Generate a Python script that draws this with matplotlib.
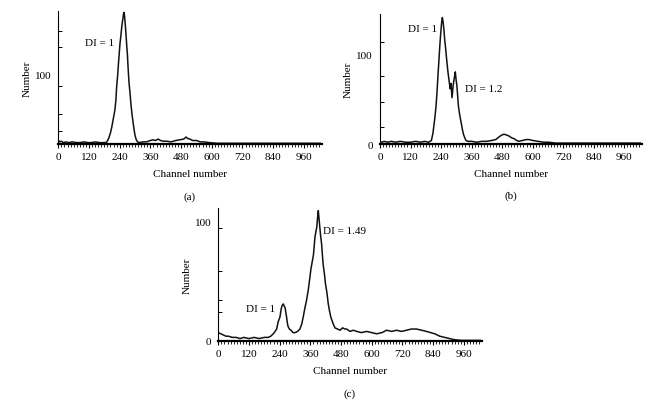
import matplotlib
matplotlib.use("Agg")
from matplotlib import pyplot as plt
from matplotlib.ticker import FixedLocator, MultipleLocator, NullFormatter

plt.rcParams["font.family"] = ["Liberation Serif", "DejaVu Serif"]
plt.rcParams["font.size"] = 8

# Panel (a): diploid only
ch_a = [0, 6, 12, 20, 30, 40, 55, 70, 85, 100, 115, 130, 145, 160, 175, 185, 190, 197,
        204, 209, 215, 221, 225, 228, 232, 235, 238, 241, 245, 248, 252, 255, 257, 259,
        262, 265, 268, 270, 273, 276, 280, 284, 288, 293, 297, 300, 305, 310, 318, 330,
        345, 360, 370, 380, 390, 400, 410, 425, 440, 460, 475, 490, 500, 505, 515, 525,
        540, 555, 570, 590, 620, 660, 700, 760, 820, 880, 940, 1000, 1024]
cnt_a = [5, 3, 4, 2, 3, 2, 3, 2, 2, 3, 2, 2, 3, 2, 2, 2, 3, 8,
         16, 24, 36, 48, 62, 81, 98, 114, 128, 143, 156, 167, 178, 186, 188, 183,
         170, 155, 138, 129, 108, 90, 74, 57, 43, 29, 19, 12, 6, 3, 2, 3,
         3, 5, 6, 5, 7, 5, 4, 4, 3, 5, 6, 7, 10, 8, 7, 5,
         5, 3, 3, 2, 1, 1, 1, 1, 1, 1, 1, 1, 1]

# Panel (b): DI = 1 and DI = 1.2
ch_b = [0, 8, 16, 30, 45, 60, 80, 100, 120, 140, 160, 175, 190, 197, 202, 208, 215, 220,
        224, 228, 232, 235, 238, 242, 245, 248, 251, 254, 258, 262, 267, 272, 276, 279,
        283, 287, 290, 293, 296, 299, 302, 305, 308, 313, 319, 324, 328, 333, 338, 345,
        360, 380, 400, 420, 440, 455, 468, 478, 488, 498, 507, 517, 527, 537, 546, 560,
        575, 585, 600, 620, 645, 663, 690, 740, 800, 860, 920, 980, 1024]
cnt_b = [3, 2, 3, 2, 3, 2, 3, 2, 2, 3, 2, 3, 2, 3, 4, 12, 28, 42,
         58, 78, 96, 110, 122, 136, 142, 137, 129, 118, 107, 95, 81, 70, 62, 68,
         52, 64, 71, 76, 81, 72, 66, 55, 43, 33, 24, 16, 11, 7, 4, 3,
         3, 2, 3, 3, 4, 5, 8, 10, 11, 10, 9, 7, 6, 4, 3, 4,
         5, 5, 4, 3, 2, 2, 1, 1, 1, 1, 1, 1, 1]

# Panel (c): DI = 1 and DI = 1.49
ch_c = [0, 10, 20, 30, 40, 55, 70, 85, 100, 120, 140, 160, 180, 195, 205, 215, 222, 228,
        234, 241, 246, 250, 254, 258, 261, 264, 267, 270, 273, 278, 284, 292, 300, 310,
        319, 326, 332, 338, 345, 352, 358, 362, 367, 372, 378, 382, 385, 388, 391, 394,
        397, 400, 404, 407, 410, 415, 419, 425, 430, 435, 440, 448, 456, 466, 476, 486,
        495, 502, 515, 528, 541, 560, 580, 600, 619, 640, 658, 678, 697, 716, 736, 755,
        775, 795, 814, 830, 847, 856, 866, 885, 905, 925, 950, 1000, 1024]
cnt_c = [7, 6, 5, 4, 4, 3, 3, 2, 3, 2, 3, 2, 3, 3, 4, 6, 8, 10,
         16, 20, 27, 30, 31, 29, 28, 24, 20, 15, 12, 10, 9, 7, 7, 8,
         10, 14, 20, 27, 34, 43, 53, 60, 66, 72, 87, 92, 95, 103, 109, 102,
         95, 88, 81, 72, 64, 56, 48, 40, 31, 25, 20, 15, 11, 10, 9, 11,
         10, 10, 8, 9, 8, 7, 8, 7, 6, 7, 9, 8, 9, 8, 9, 10,
         10, 9, 8, 7, 6, 5, 4, 3, 2, 1, 0.5, 0.5, 0.5]

x_ticks = [0, 120, 240, 360, 480, 600, 720, 840, 960]

panels = [
    # (channels, counts, axes rect, y top, labelled y ticks, plain y ticks, notes, tag)
    (ch_a, cnt_a, [0.0889, 0.6393, 0.4015, 0.3308], 190, [100], [19, 43, 83, 138, 161],
     [("DI = 1", 163, 145)], "(a)"),
    (ch_b, cnt_b, [0.5793, 0.6393, 0.3994, 0.3234], 146, [0, 100], [19.5, 47.5, 76, 114],
     [("DI = 1", 166, 130), ("DI = 1.2", 408, 62)], "(b)"),
    (ch_c, cnt_c, [0.3328, 0.1493, 0.4015, 0.3301], 111, [0, 100], [24, 34.5, 58.8, 94.7],
     [("DI = 1.49", 495, 92), ("DI = 1", 164, 27)], "(c)"),
]

fig = plt.figure(figsize=(6.56, 4.02), dpi=100)

for ch, cnt, rect, ytop, ymaj, ymin, notes, tag in panels:
    ax = fig.add_axes(rect)
    ax.plot(ch, cnt, color="#111111", lw=1.1)
    ax.set_xlim(0, 1030)
    ax.set_ylim(0, ytop)

    for side in ["top", "right"]:
        ax.spines[side].set_visible(False)
    ax.spines["bottom"].set_linewidth(1.6)
    ax.spines["left"].set_linewidth(0.8)

    ax.set_xticks(x_ticks)
    ax.xaxis.set_minor_locator(MultipleLocator(12))
    ax.tick_params(axis="x", which="major", direction="out", length=3, width=0.8, pad=3)
    ax.tick_params(axis="x", which="minor", direction="out", length=2, width=0.6)

    ax.set_yticks(ymaj)
    ax.yaxis.set_minor_locator(FixedLocator(ymin))
    ax.yaxis.set_minor_formatter(NullFormatter())
    ax.tick_params(axis="y", which="major", direction="in", length=0, pad=5)
    ax.tick_params(axis="y", which="minor", direction="in", length=3, width=0.7)

    ax.set_xlabel("Channel number")
    ax.xaxis.set_label_coords(0.5, -0.19)
    ax.text(-0.12, 0.5, "Number", rotation=90, ha="center", va="center",
            transform=ax.transAxes)
    ax.text(0.5, -0.39, tag, ha="center", va="center", transform=ax.transAxes)

    for label, x, y in notes:
        ax.text(x, y, label, ha="center", va="center")

fig.savefig("out.png", dpi=100)
